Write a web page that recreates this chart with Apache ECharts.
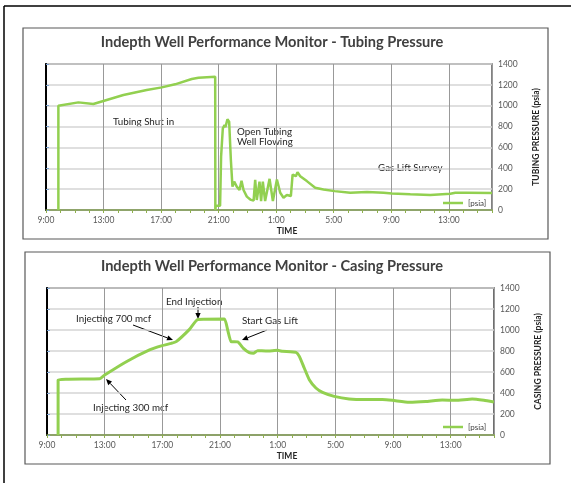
<!DOCTYPE html>
<html>
<head>
<meta charset="utf-8">
<script src="https://cdn.jsdelivr.net/npm/echarts@6/dist/echarts.min.js"></script>
<style>
html,body{margin:0;padding:0;background:#fff;}
#c{width:571px;height:483px;}
</style>
</head>
<body>
<div id="c"></div>
<script>
// Hours elapsed since 9:00 on day 1
const timeLabels = ['9:00','13:00','17:00','21:00','1:00','5:00','9:00','13:00'];
const psiaTicks = [0,200,400,600,800,1000,1200,1400];

const tubingTime = [0.86,0.86,2.25,3.29,5.38,7.0,8.05,8.97,10.13,10.6,11.76,11.77,11.8,12.1,12.17,12.29,12.41,12.47,12.61,12.73,12.85,12.96,13.08,13.26,13.45,13.59,13.73,13.96,14.2,14.43,14.54,14.65,14.84,14.95,15.07,15.23,15.54,15.77,16.05,16.28,16.51,16.74,17.02,17.14,17.25,17.37,17.48,17.67,18.13,18.71,19.29,20.06,21.15,22.31,23.47,24.05,25.32,26.71,28.1,28.45,29.26,31.0];
const tubingPsia = [0,1000,1032,1016,1103,1151,1176,1205,1256,1268,1278,0,40,40,511,783,815,793,869,847,479,224,272,224,192,280,192,128,100,90,290,96,272,85,272,86,299,86,293,165,118,143,134,340,356,324,363,324,277,213,197,181,165,172,165,159,150,143,156,165,165,162];

const casingTime = [0.77,0.77,3.65,4.0,5.5,7.11,7.99,8.62,8.96,9.88,10.46,12.30,12.53,12.77,13.23,13.62,14.03,14.31,14.61,15.18,15.65,16.0,16.34,17.27,17.5,17.84,18.19,18.65,19.11,19.92,20.95,22.11,23.26,23.95,25.11,26.26,27.41,28.34,29.49,30.3,30.99];
const casingPsia = [0,524,536,571,698,810,851,873,889,1006,1101,1105,1000,889,886,825,784,778,803,800,803,806,797,787,749,638,527,448,406,368,343,337,337,330,311,318,333,330,343,330,314];

const GREEN = '#92d050';
const FONT = 'Lato';

function pairs(xs, ys){ return xs.map((x,i)=>[x, ys[i]]); }

function xAxisCfg(gi){
  return {
    gridIndex: gi, type:'value', min:0, max:31, interval:4,
    axisLine:{show:true, lineStyle:{color:'#7f9a4f', width:1.5}},
    axisTick:{show:true, length:3, lineStyle:{color:'#8fb04e'}},
    minorTick:{show:true, splitNumber:4, length:3, lineStyle:{color:'#8fb04e'}},
    splitLine:{show:true, lineStyle:{color:'#999999', width:1}},
    axisLabel:{fontFamily:FONT, fontSize:8.5, color:'#595959', margin:6,
      formatter:v => (v % 4 === 0 && v/4 < timeLabels.length) ? timeLabels[v/4] : ''}
  };
}
function yRightCfg(gi, name){
  return {
    gridIndex: gi, type:'value', position:'right', min:0, max:1400, interval:200,
    axisLine:{show:true, lineStyle:{color:'#4a6fa5', width:2}},
    axisTick:{show:true, length:3, lineStyle:{color:'#7ea3cf'}},
    splitLine:{show:true, lineStyle:{color:'#d4d4d4', width:1.5}},
    axisLabel:{fontFamily:FONT, fontSize:8.5, color:'#595959', margin:6,
      formatter:v => psiaTicks.indexOf(v) >= 0 ? String(v) : ''},
    name:name, nameLocation:'middle', nameRotate:90, nameGap:40,
    nameTextStyle:{fontFamily:FONT, fontSize:8.5, fontWeight:'bold', color:'#262626'}
  };
}
function yLeftCfg(gi){
  return {
    gridIndex: gi, type:'value', position:'left', min:0, max:1400, interval:200,
    axisLine:{show:true, lineStyle:{color:'#000', width:2}},
    axisTick:{show:false}, axisLabel:{show:false}, splitLine:{show:false}
  };
}

function arrow(x1,y1,x2,y2){
  const ang = Math.atan2(y2-y1, x2-x1), L=6, W=2.6;
  const bx = x2 - L*Math.cos(ang), by = y2 - L*Math.sin(ang);
  const px = -Math.sin(ang)*W, py = Math.cos(ang)*W;
  return [
    {type:'line', shape:{x1:x1,y1:y1,x2:bx,y2:by}, style:{stroke:'#000', lineWidth:1}},
    {type:'polygon', shape:{points:[[x2,y2],[bx+px,by+py],[bx-px,by-py]]}, style:{fill:'#000'}}
  ];
}
function txt(x,y,t,opt){
  return {type:'text', x:x, y:y, style:Object.assign({text:t, fontFamily:FONT, fontSize:9.8, fill:'#262626', textAlign:'left', textVerticalAlign:'middle'}, opt||{})};
}

const chart = echarts.init(document.getElementById('c'), null, {renderer:'canvas'});
chart.setOption({
  animation:false,
  backgroundColor:'#fff',
  grid:[
    {left:46, top:64, width:446, height:146, show:true, borderColor:'#595959', borderWidth:1.5, containLabel:false},
    {left:47, top:288, width:447, height:147, show:true, borderColor:'#404040', borderWidth:1.5, containLabel:false}
  ],
  xAxis:[xAxisCfg(0), xAxisCfg(1)],
  yAxis:[yRightCfg(0,'TUBING PRESSURE (psia)'), yLeftCfg(0), yRightCfg(1,'CASING PRESSURE (psia)'), yLeftCfg(1)],
  legend:[
    {data:['[psia]'], left:443, top:199, padding:0, icon:'rect', itemWidth:20, itemHeight:2.5, itemGap:4,
     textStyle:{fontFamily:FONT, fontSize:8, color:'#404040'}, selectedMode:false},
    {data:['[psia]'], left:443, top:423, padding:0, icon:'rect', itemWidth:20, itemHeight:2.5, itemGap:4,
     textStyle:{fontFamily:FONT, fontSize:8, color:'#404040'}, selectedMode:false}
  ],
  series:[
    {name:'[psia]', type:'line', xAxisIndex:0, yAxisIndex:0, data:pairs(tubingTime,tubingPsia),
     showSymbol:false, lineStyle:{color:GREEN, width:2.5}, itemStyle:{color:GREEN}},
    {name:'[psia]', type:'line', xAxisIndex:1, yAxisIndex:2, data:pairs(casingTime,casingPsia),
     showSymbol:false, smooth:0.15, lineStyle:{color:GREEN, width:3}, itemStyle:{color:GREEN}}
  ],
  graphic:[
    {type:'line', shape:{x1:4,y1:6,x2:571,y2:6}, style:{stroke:'#000', lineWidth:1.5}},
    {type:'line', shape:{x1:4,y1:6,x2:4,y2:483}, style:{stroke:'#000', lineWidth:1.5}},
    {type:'rect', shape:{x:23,y:28,width:525,height:211}, style:{fill:'none', stroke:'#595959', lineWidth:1.2}},
    {type:'rect', shape:{x:25,y:252,width:525,height:212}, style:{fill:'none', stroke:'#595959', lineWidth:1.2}},
    txt(272,42,'Indepth Well Performance Monitor - Tubing Pressure',{fontSize:14.6, fontWeight:'bold', fill:'#404040', textAlign:'center'}),
    txt(272,266,'Indepth Well Performance Monitor - Casing Pressure',{fontSize:14.6, fontWeight:'bold', fill:'#404040', textAlign:'center'}),
    txt(287,231,'TIME',{fontSize:8.5, fontWeight:'bold', textAlign:'center'}),
    txt(287,456,'TIME',{fontSize:8.5, fontWeight:'bold', textAlign:'center'}),
    txt(113,122,'Tubing Shut in'),
    txt(237,132,'Open Tubing'),
    txt(237,142,'Well Flowing'),
    txt(378,168,'Gas Lift Survey'),
    txt(166,302,'End Injection'),
    txt(76,319,'Injecting 700 mcf'),
    txt(242,321,'Start Gas Lift'),
    txt(93,408,'Injecting 300 mcf'),
    ...arrow(198,307,198,319),
    ...arrow(133,325,173,340),
    ...arrow(267,330,242,340),
    ...arrow(126,400,106,379)
  ]
});
</script>
</body>
</html>
